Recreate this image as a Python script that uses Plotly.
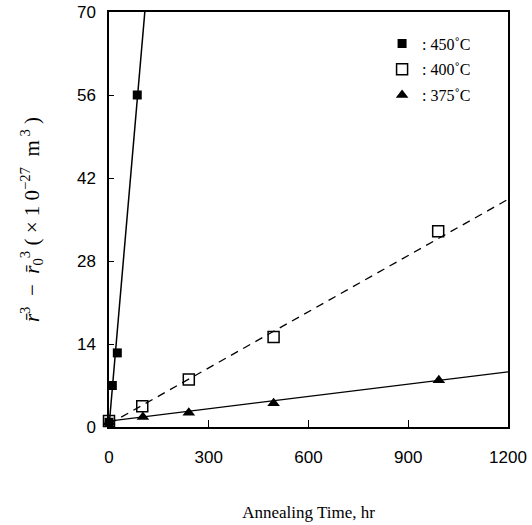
import plotly.graph_objects as go

# Data
t450 = [0, 10, 25, 85]
v450 = [0.8, 7.0, 12.5, 56.0]
t400 = [0, 100, 240, 495, 990]
v400 = [1.0, 3.5, 8.0, 15.2, 33.0]
t375 = [0, 102, 240, 495, 992]
v375 = [0.8, 1.7, 2.4, 4.0, 7.9]

# fitted lines (end points)
fit450_t = [0, 120]
fit450_v = [0.0, 78.0]
fit400_t = [0, 1200]
fit400_v = [0.5, 38.4]
fit375_t = [0, 1200]
fit375_v = [1.0, 9.3]

xticks = [0, 300, 600, 900, 1200]
yticks = [0, 14, 28, 42, 56, 70]

fig = go.Figure()
fig.add_trace(go.Scatter(x=fit450_t, y=fit450_v, mode="lines",
                         line=dict(color="black", width=1.5), showlegend=False))
fig.add_trace(go.Scatter(x=fit400_t, y=fit400_v, mode="lines",
                         line=dict(color="black", width=1.3, dash="8px,6px"), showlegend=False))
fig.add_trace(go.Scatter(x=fit375_t, y=fit375_v, mode="lines",
                         line=dict(color="black", width=1.3), showlegend=False))

fig.add_trace(go.Scatter(x=t450, y=v450, mode="markers", name=": 450˚C", cliponaxis=False,
                         legendgroup="a",
                         marker=dict(symbol="square", size=9, color="black")))
fig.add_trace(go.Scatter(x=t400, y=v400, mode="markers", name=": 400˚C", cliponaxis=False,
                         legendgroup="b",
                         marker=dict(symbol="square-open", size=11, color="black",
                                     line=dict(width=1.5, color="black"))))
fig.add_trace(go.Scatter(x=t375, y=v375, mode="markers", name=": 375˚C", cliponaxis=False,
                         legendgroup="c",
                         marker=dict(symbol="triangle-up", size=11, color="black")))

fig.update_layout(
    width=532, height=525,
    margin=dict(l=109, r=24, t=12, b=98),
    paper_bgcolor="white", plot_bgcolor="white",
    showlegend=True,
    legend=dict(x=0.92, y=0.965, xanchor="right", yanchor="top",
                font=dict(family="Liberation Serif", size=16, color="black"),
                bgcolor="rgba(0,0,0,0)", itemwidth=30, tracegroupgap=2),
    xaxis=dict(range=[0, 1200], tickvals=xticks, ticks="inside", ticklen=7,
               tickcolor="black", showgrid=False, zeroline=False, automargin=False,
               showline=True, linecolor="black", linewidth=1.5, mirror=True,
               tickfont=dict(family="Liberation Sans", size=17, color="black"),
               ticklabelstandoff=14,
               title=dict(text="Annealing Time, hr", standoff=40,
                          font=dict(family="Liberation Serif", size=17, color="black"))),
    yaxis=dict(range=[0, 70], tickvals=yticks, ticks="inside", ticklen=5,
               tickcolor="black", showgrid=False, zeroline=False, automargin=False,
               showline=True, linecolor="black", linewidth=1.5, mirror=True,
               tickfont=dict(family="Liberation Sans", size=17, color="black"),
               ticklabelstandoff=8,
               title=dict(text="<i>r̄</i><sup>3</sup>  −  <i>r̄</i><sub>0</sub><sup>3</sup> ( × 1 0<sup>−27</sup>  m<sup> 3</sup> )",
                          standoff=32,
                          font=dict(family="Liberation Serif", size=21, color="black"))),
)

fig.write_html("out.html", config={"displayModeBar": False},
               post_script="document.body.style.margin='0';")
